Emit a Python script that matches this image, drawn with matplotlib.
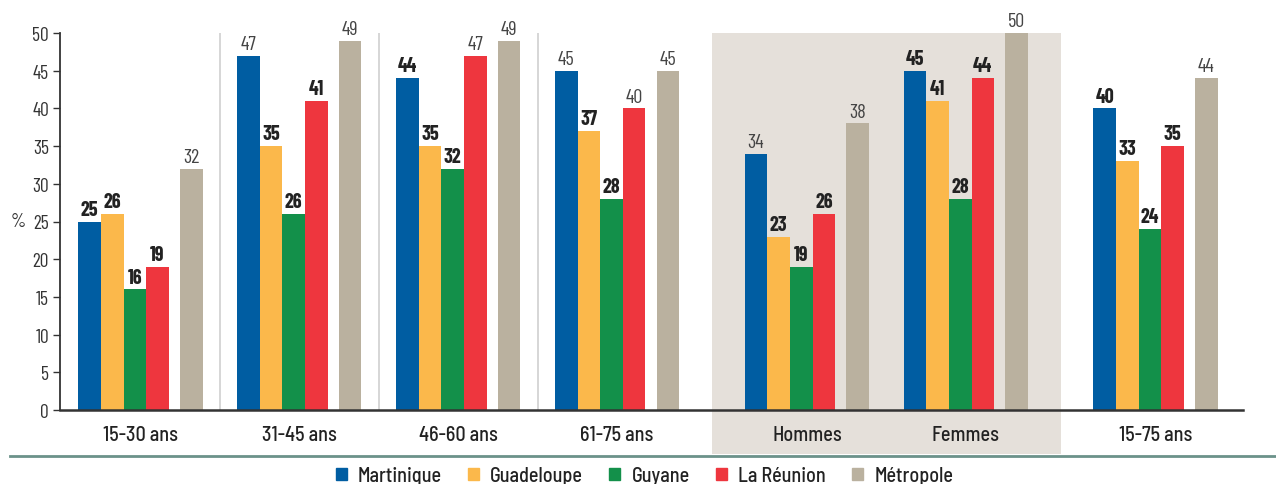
import numpy as np
import matplotlib
matplotlib.use("Agg")
import matplotlib.pyplot as plt
from matplotlib.lines import Line2D
from matplotlib.patches import Patch

groups = ["15-30 ans", "31-45 ans", "46-60 ans", "61-75 ans", "Hommes", "Femmes", "15-75 ans"]
regions = ["Martinique", "Guadeloupe", "Guyane", "La Réunion", "Métropole"]

martinique = [25, 47, 44, 45, 34, 45, 40]
guadeloupe = [26, 35, 35, 37, 23, 41, 33]
guyane = [16, 26, 32, 28, 19, 28, 24]
reunion = [19, 41, 47, 40, 26, 44, 35]
metropole = [32, 49, 49, 45, 38, 50, 44]

# bold label = value printed in bold in the source
bold_martinique = [1, 0, 1, 0, 0, 1, 1]
bold_guadeloupe = [1, 1, 1, 1, 1, 1, 1]
bold_guyane = [1, 1, 1, 1, 1, 1, 1]
bold_reunion = [1, 1, 0, 0, 1, 1, 1]
bold_metropole = [0, 0, 0, 0, 0, 0, 0]

colors = ["#005da2", "#fbb84b", "#13904a", "#ee363e", "#bab19f"]

COND = ["Barlow Condensed", "DejaVu Sans"]
SEMI = ["Barlow Semi Condensed", "DejaVu Sans"]
plt.rcParams["font.family"] = SEMI


def main():
    series = [martinique, guadeloupe, guyane, reunion, metropole]
    bolds = [bold_martinique, bold_guadeloupe, bold_guyane, bold_reunion, bold_metropole]

    # group centres, wider gap around the gender block
    big = 1.195
    x = np.array([0, 1, 2, 3, 3 + big, 4 + big, 4 + 2 * big])
    w = 0.1425
    offsets = [-0.32, -0.32 + w, -0.32 + 2 * w, -0.32 + 3 * w, 0.32]

    fig = plt.figure(figsize=(12.76, 4.85), dpi=100)
    ax = fig.add_axes([60 / 1276, 74 / 485, 1183 / 1276, 377 / 485])

    # shaded gender block
    lo = (x[3] + x[4]) / 2
    hi = (x[5] + x[6]) / 2
    ax.axvspan(lo, hi, ymin=-0.117, ymax=1, color="#e5e0da", lw=0,
               clip_on=False, zorder=0)
    for sep in [0.5, 1.5, 2.5]:
        ax.axvline(sep, color="#d0d0d0", lw=1.2, zorder=0)

    for vals, bold, off, col, name in zip(series, bolds, offsets, colors, regions):
        bars = ax.bar(x + off, vals, w, color=col, label=name, zorder=2)
        for b, v, bb in zip(bars, vals, bold):
            ax.annotate(str(v), (b.get_x() + b.get_width() / 2, v),
                        xytext=(0, 2), textcoords="offset points",
                        ha="center", va="bottom", fontsize=14.5,
                        family=COND,
                        fontweight="bold" if bb else "normal",
                        color="#222222" if bb else "#444444", zorder=3)

    ax.set_xlim(-0.506, 6.94)
    ax.set_ylim(0, 50)
    ax.set_yticks(np.arange(0, 51, 5))
    ax.set_xticks(x)
    ax.set_xticklabels(groups, fontsize=14.5, color="#222222", fontweight="medium")
    for t in ax.get_yticklabels():
        t.set_family(COND)
    ax.tick_params(axis="x", length=0, pad=11)
    ax.tick_params(axis="y", length=5, width=1, pad=3, labelsize=14,
                   colors="#333333")
    for s in ["top", "right"]:
        ax.spines[s].set_visible(False)
    ax.spines["left"].set_color("#333333")
    ax.spines["left"].set_linewidth(1.3)
    ax.spines["bottom"].set_color("#333333")
    ax.spines["bottom"].set_linewidth(1.8)
    ax.spines["bottom"].set_zorder(4)
    ax.set_ylabel("%", rotation=0, fontsize=14, color="#333333", labelpad=10,
                  va="center", family=COND)

    fig.add_artist(Line2D([10 / 1276, 1], [1 - 457 / 485] * 2,
                          transform=fig.transFigure, color="#6b928a", lw=2))

    handles = [Patch(color=c) for c in colors]
    fig.legend(handles, regions, loc="center", bbox_to_anchor=(0.505, 1 - 477 / 485),
               ncol=5, frameon=False, fontsize=14.5, handlelength=0.55,
               handleheight=0.55, handletextpad=0.55, columnspacing=1.3,
               labelcolor="#222222", prop={"family": SEMI, "weight": "medium", "size": 14.5})

    fig.savefig("out.png", dpi=100)


if __name__ == "__main__":
    main()
